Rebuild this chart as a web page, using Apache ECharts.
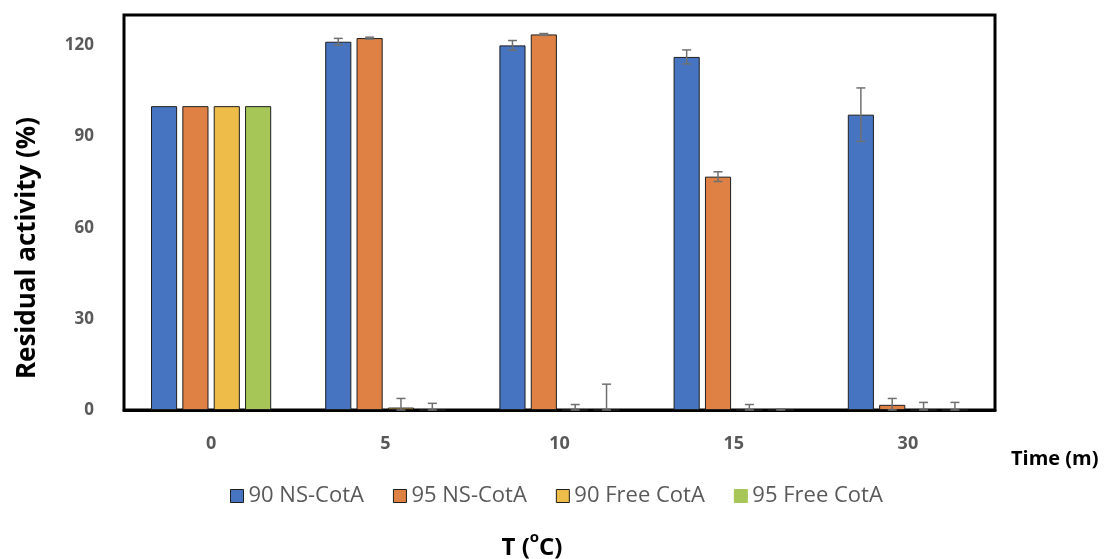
<!DOCTYPE html>
<html>
<head>
<meta charset="utf-8">
<script src="https://cdn.jsdelivr.net/npm/echarts@6/dist/echarts.min.js"></script>
<style>html,body{margin:0;padding:0;background:#fff;}#c{width:1105px;height:559px;}</style>
</head>
<body>
<div id="c"></div>
<script>
const categories = ['0', '5', '10', '15', '30'];
const seriesNames = ['90 NS-CotA', '95 NS-CotA', '90 Free CotA', '95 Free CotA'];
const ns90 = [100, 121.2, 120.0, 116.2, 97.2];
const ns90Err = [0, 1.1, 1.6, 2.3, 8.8];
const ns95 = [100, 122.4, 123.6, 76.8, 1.7];
const ns95Err = [0, 0.3, 0.3, 1.6, 2.1];
const free90 = [100, 0.8, 0, 0, 0];
const free90Err = [0, 3.0, 1.8, 1.8, 2.5];
const free95 = [100, 0, 0, 0, 0];
const free95Err = [0, 2.2, 8.5, 0.4, 2.5];
const yTicks = [0, 30, 60, 90, 120];

const colors = ['#4674C1', '#DF8144', '#EEBC49', '#A6C658'];
const values = [ns90, ns95, free90, free95];
const errs = [ns90Err, ns95Err, free90Err, free95Err];
const CAT_GAP = 0.31, BAR_GAP = 0.2;
const FONT = '"Open Sans", "Liberation Sans", sans-serif';

const errData = [];
values.forEach((vals, s) => vals.forEach((v, i) => {
  if (errs[s][i] > 0) errData.push([i, v, errs[s][i], s]);
}));

const barSeries = seriesNames.map((name, s) => ({
  name, type: 'bar', data: values[s],
  barCategoryGap: (CAT_GAP * 100) + '%', barGap: (BAR_GAP * 100) + '%',
  itemStyle: { color: colors[s], borderColor: '#1e1e1e', borderWidth: 1 },
  emphasis: { disabled: true }
}));

const errSeries = {
  type: 'custom', name: 'err', data: errData, z: 5, silent: true,
  renderItem: function (params, api) {
    const i = api.value(0), v = api.value(1), e = api.value(2), s = api.value(3);
    const band = api.size([1, 0])[0];
    const bw = band * (1 - CAT_GAP) / (4 + 3 * BAR_GAP);
    const pitch = bw * (1 + BAR_GAP);
    const c = api.coord([i, 0]);
    const x = c[0] + (s - 1.5) * pitch;
    const yHi = api.coord([i, v + e])[1];
    const yLo = api.coord([i, Math.max(0, v - e)])[1];
    const cap = 4.5;
    const st = { stroke: '#707070', lineWidth: 1.5 };
    return {
      type: 'group', children: [
        { type: 'line', shape: { x1: x, y1: yHi, x2: x, y2: yLo }, style: st },
        { type: 'line', shape: { x1: x - cap, y1: yHi, x2: x + cap, y2: yHi }, style: st },
        { type: 'line', shape: { x1: x - cap, y1: yLo, x2: x + cap, y2: yLo }, style: st }
      ]
    };
  }
};

const chart = echarts.init(document.getElementById('c'), null, { renderer: 'canvas' });
chart.setOption({
  animation: false,
  backgroundColor: '#fff',
  grid: { left: 124, right: 110, top: 15, bottom: 149, show: true, borderColor: '#000', borderWidth: 3, backgroundColor: 'transparent' },
  legend: {
    data: seriesNames.map((n, s) => ({ name: n, itemStyle: { borderColor: s === 3 ? colors[3] : '#1e1e1e', borderWidth: 1 } })),
    left: 225, top: 480, icon: 'rect', itemWidth: 13, itemHeight: 13, itemGap: 29,
    textStyle: { fontFamily: FONT, fontSize: 22, color: '#595959' }
  },
  xAxis: {
    type: 'category', data: categories,
    axisLine: { show: true, lineStyle: { color: '#000', width: 3 } },
    axisTick: { show: false },
    axisLabel: { margin: 25, fontFamily: FONT, fontSize: 18, fontWeight: 'bold', color: '#595959' }
  },
  yAxis: {
    type: 'value', min: 0, max: 130, interval: 30,
    axisLine: { show: false }, axisTick: { show: false }, splitLine: { show: false },
    axisLabel: { margin: 30, showMaxLabel: false, fontFamily: FONT, fontSize: 17, fontWeight: 'bold', color: '#595959',
      formatter: v => yTicks.includes(v) ? String(v) : '' }
  },
  graphic: [
    { type: 'text', x: 28, y: 248, rotation: Math.PI / 2,
      style: { text: 'Residual activity (%)', fontFamily: FONT, fontSize: 26, fontWeight: 'bold', fill: '#000', align: 'center', verticalAlign: 'middle' } },
    { type: 'text', x: 1011, y: 459,
      style: { text: 'Time (m)', fontFamily: FONT, fontSize: 20, fontWeight: 'bold', fill: '#000', align: 'left', verticalAlign: 'middle' } },
    { type: 'text', x: 532, y: 545,
      style: { text: '{a|T (}{b|o}{a|C)}', align: 'center', verticalAlign: 'middle',
        rich: {
          a: { fontFamily: FONT, fontSize: 24, fontWeight: 'bold', color: '#000', lineHeight: 30, verticalAlign: 'bottom' },
          b: { fontFamily: FONT, fontSize: 15, fontWeight: 'bold', color: '#000', lineHeight: 24, verticalAlign: 'top' }
        } } }
  ],
  series: barSeries.concat([errSeries])
});
</script>
</body>
</html>
